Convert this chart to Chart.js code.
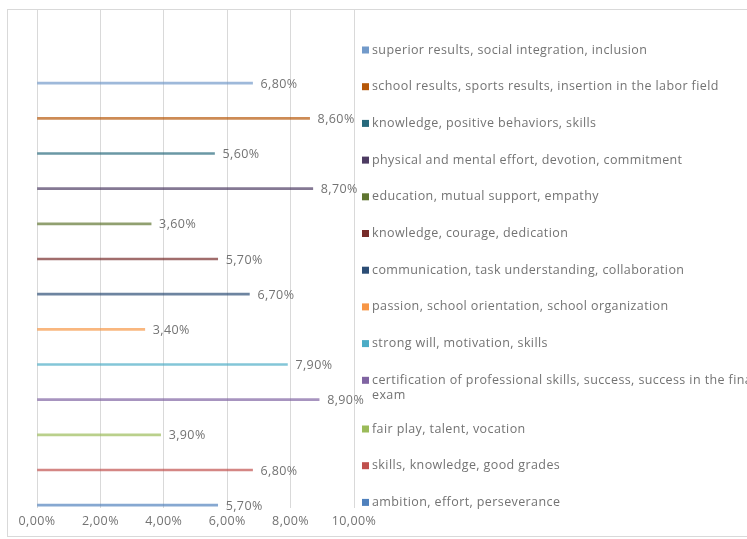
<!DOCTYPE html>
<html>
<head>
<meta charset="utf-8">
<script src="https://cdn.jsdelivr.net/npm/chart.js@4.4.1/dist/chart.umd.min.js"></script>
<style>
  html, body { margin: 0; padding: 0; background: #fff; overflow: hidden; }
  #wrap { position: relative; width: 747px; height: 539px; }
</style>
</head>
<body>
<div id="wrap"><canvas id="valuesChart" width="747" height="539"></canvas></div>
<script>
// series in Excel order: first one sits at the bottom of the plot
const categories = [
  "ambition, effort, perseverance",
  "skills, knowledge, good grades",
  "fair play, talent, vocation",
  "certification of professional skills, success, success in the final exam",
  "strong will, motivation, skills",
  "passion, school orientation, school organization",
  "communication, task understanding, collaboration",
  "knowledge, courage, dedication",
  "education, mutual support, empathy",
  "physical and mental effort, devotion, commitment",
  "knowledge, positive behaviors, skills",
  "school results, sports results, insertion in the labor field",
  "superior results, social integration, inclusion",
];
const values = [5.7, 6.8, 3.9, 8.9, 7.9, 3.4, 6.7, 5.7, 3.6, 8.7, 5.6, 8.6, 6.8];
const colors = [
  "#4F81BD", "#C0504D", "#9BBB59", "#8064A2", "#4BACC6", "#F79646",
  "#2C4D75", "#772C2A", "#5F7530", "#4D3B62", "#276A7C", "#B65708", "#729ACA",
];
const xTicks = [0, 2, 4, 6, 8, 10];

const FONT = "'Open Sans', Lato, sans-serif";
const FONT_SIZE = 12.5;
const SPACING = "0.4px";
const TEXT_COLOR = "#737373";

function pct(v) {
  return v.toFixed(2).replace(".", ",") + "%";
}

// light frame around the whole chart, and the wider text tracking
const framePlugin = {
  id: "frame",
  beforeLayout(chart) {
    chart.ctx.letterSpacing = SPACING;
  },
  beforeDraw(chart) {
    const ctx = chart.ctx;
    ctx.save();
    ctx.fillStyle = "#fff";
    ctx.fillRect(0, 0, chart.width, chart.height);
    ctx.strokeStyle = "#d9d9d9";
    ctx.lineWidth = 1;
    ctx.strokeRect(7.5, 9.5, chart.width + 20, chart.height - 12);
    ctx.restore();
    ctx.letterSpacing = SPACING;
  },
};

// value labels just past the end of each bar
const valueLabels = {
  id: "valueLabels",
  afterDatasetsDraw(chart) {
    const ctx = chart.ctx;
    const meta = chart.getDatasetMeta(0);
    ctx.save();
    ctx.font = FONT_SIZE + "px " + FONT;
    ctx.letterSpacing = SPACING;
    ctx.fillStyle = TEXT_COLOR;
    ctx.textBaseline = "middle";
    ctx.textAlign = "left";
    meta.data.forEach((bar, i) => {
      ctx.fillText(pct(values[i]), bar.x + 8, bar.y + 1);
    });
    ctx.restore();
  },
};

// legend on the right, top entry = last series
const sideLegend = {
  id: "sideLegend",
  afterDraw(chart, args, opts) {
    const ctx = chart.ctx;
    ctx.save();
    ctx.font = FONT_SIZE + "px " + FONT;
    ctx.letterSpacing = SPACING;
    ctx.textBaseline = "middle";
    let y = opts.top;
    for (let i = categories.length - 1; i >= 0; i--) {
      // simple word wrap
      const words = categories[i].split(" ");
      const lines = [];
      let line = "";
      words.forEach((w) => {
        const test = line ? line + " " + w : w;
        if (ctx.measureText(test).width > opts.wrapWidth && line) {
          lines.push(line);
          line = w;
        } else {
          line = test;
        }
      });
      lines.push(line);

      ctx.fillStyle = colors[i];
      ctx.fillRect(opts.left, y - 3.5, 7, 7);
      ctx.fillStyle = TEXT_COLOR;
      lines.forEach((l, k) => {
        ctx.fillText(l, opts.left + 10, y + k * opts.lineHeight);
      });
      y += opts.step + (lines.length - 1) * opts.extra;
    }
    ctx.restore();
  },
};

new Chart(document.getElementById("valuesChart"), {
  type: "bar",
  data: {
    datasets: [
      {
        data: values.map((v, i) => ({ x: v, y: i })),
        backgroundColor: colors.map((c) => c + "b0"),
        borderWidth: 0,
        barThickness: 2,
      },
    ],
  },
  options: {
    indexAxis: "y",
    responsive: false,
    animation: false,
    events: [],
    layout: { padding: { top: 10, left: 37, right: 393, bottom: 4 } },
    plugins: {
      legend: { display: false },
      tooltip: { enabled: false },
      sideLegend: { left: 362, top: 50, step: 36.7, extra: 12, lineHeight: 15, wrapWidth: 400 },
    },
    scales: {
      x: {
        type: "linear",
        min: 0,
        max: 10,
        afterBuildTicks(scale) {
          scale.ticks = xTicks.map((v) => ({ value: v }));
        },
        grid: { color: "#d9d9d9", drawTicks: false },
        border: { display: false },
        ticks: {
          padding: 6,
          color: TEXT_COLOR,
          font: { family: FONT, size: FONT_SIZE },
          callback: (v) => pct(v),
        },
      },
      y: {
        type: "linear",
        offset: false,
        min: -0.08,
        max: 14.08,
        display: false,
      },
    },
  },
  plugins: [framePlugin, valueLabels, sideLegend],
});
</script>
</body>
</html>
